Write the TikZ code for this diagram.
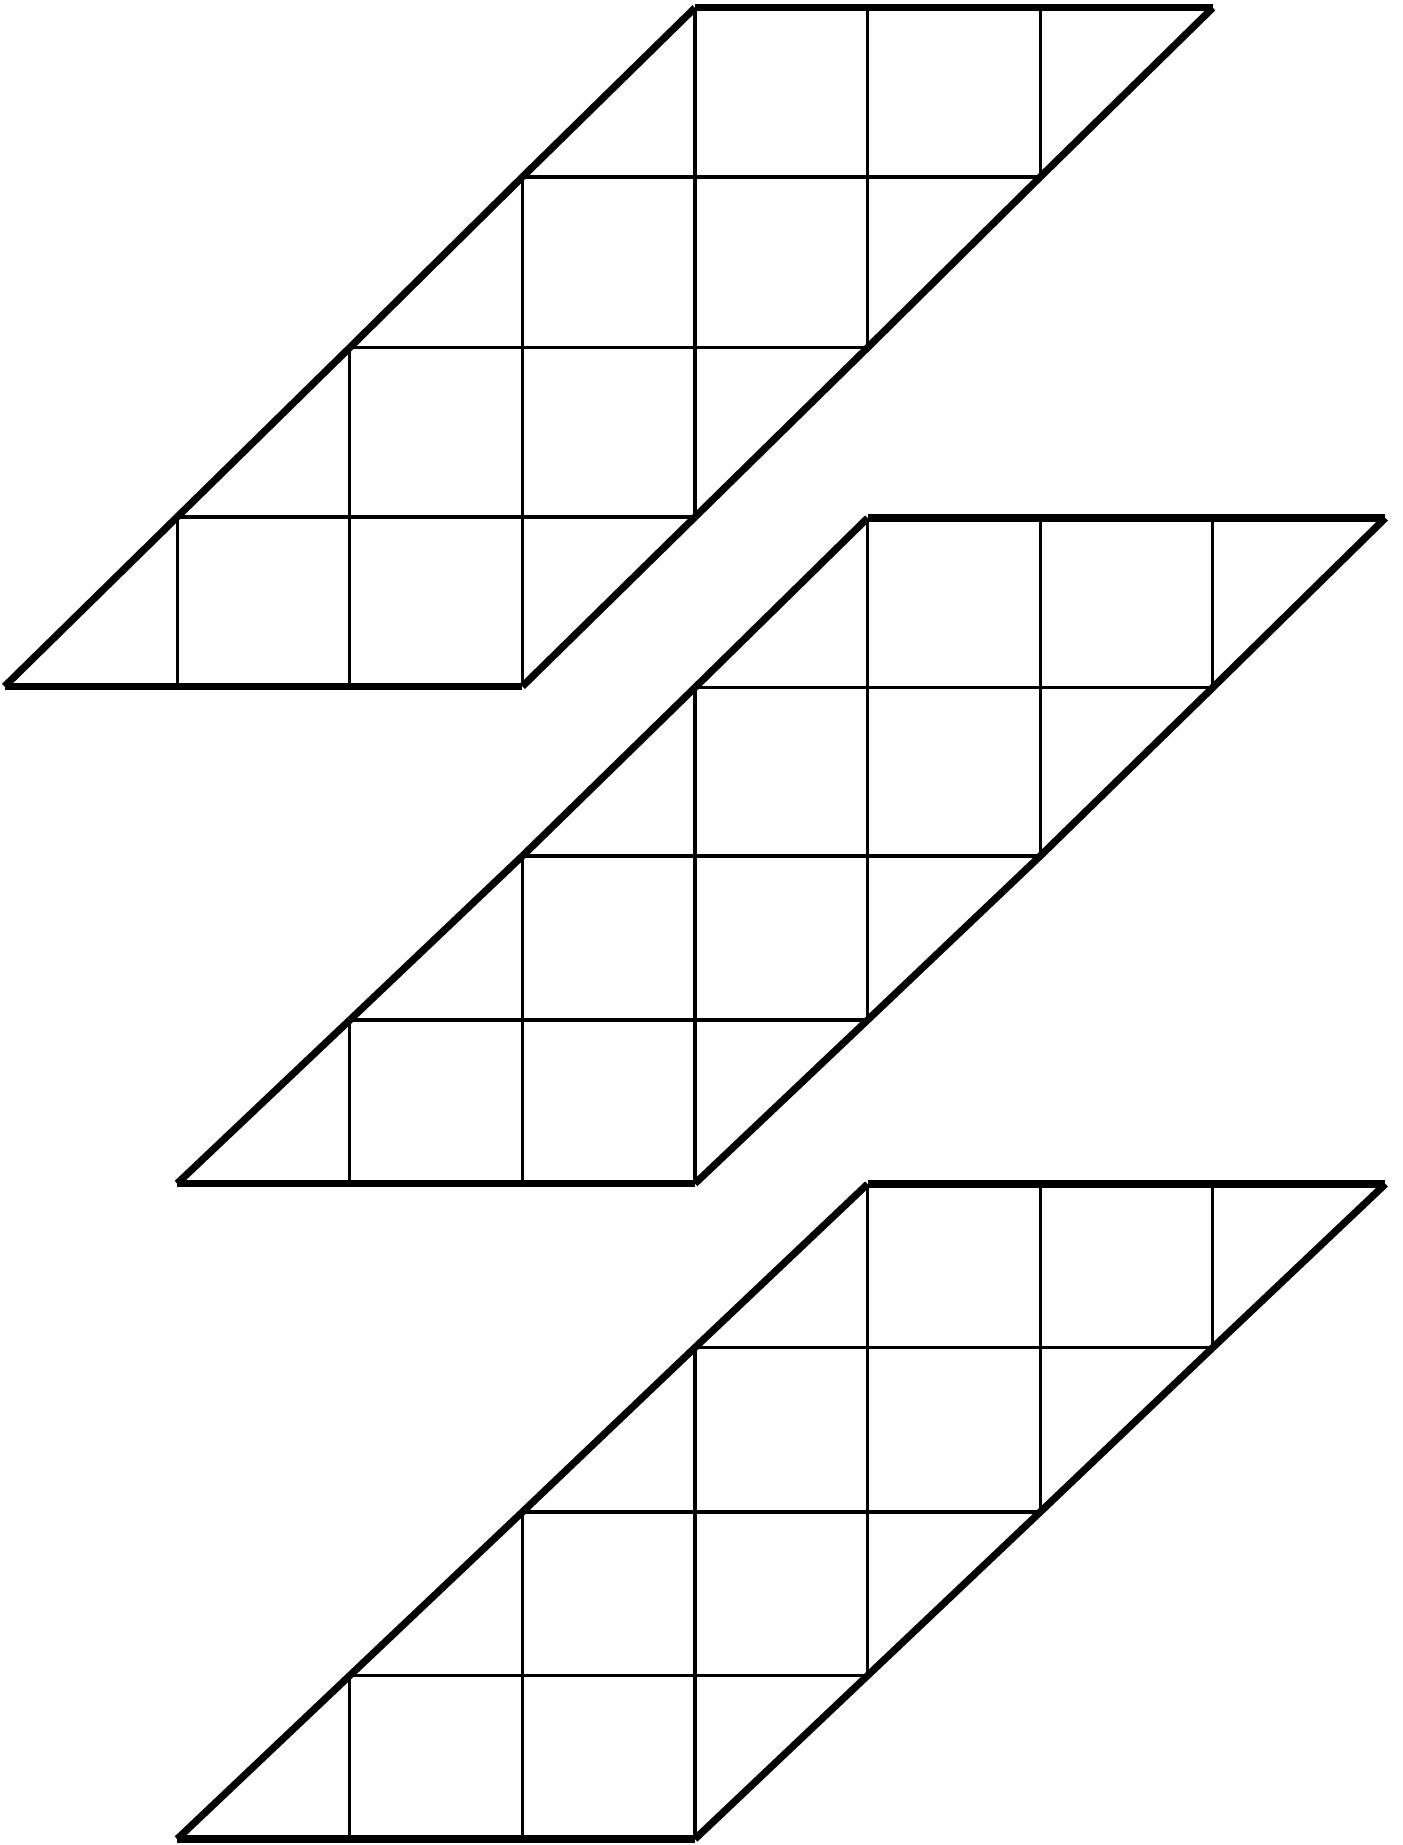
\documentclass[tikz,border=0pt]{standalone}
\begin{document}
\tikzset{
  outerline/.style={line width=3.6pt, line cap=butt, black},
  innerline/.style={line width=1.6pt, line cap=butt, black}
}
\begin{tikzpicture}[x=0.5pt,y=-0.5pt]
\useasboundingbox (0,0) rectangle (1402,1845);
\def\xo{4.6}
\def\cw{172.6}
\foreach \s/\ya/\yb/\yc/\yd/\ye in {0/7.8/177/347.6/517/686.4, 1/518/687.5/856/1020/1183.5, 1/1184/1347.5/1512/1675.5/1839}{
  \foreach \r/\yt/\ybt in {0/\ya/\yb, 1/\yb/\yc, 2/\yc/\yd, 3/\yd/\ye}{
    \pgfmathsetmacro\xA{\xo+\cw*(3-\r+\s)}
    \pgfmathsetmacro\xB{\xA+\cw}
    \pgfmathsetmacro\xC{\xA+2*\cw}
    \pgfmathsetmacro\xD{\xA+3*\cw}
    \pgfmathsetmacro\xE{\xA+4*\cw}
    % thin verticals
    \draw[innerline] (\xB,\yt) -- (\xB,\ybt);
    \draw[innerline] (\xC,\yt) -- (\xC,\ybt);
    \draw[innerline] (\xD,\yt) -- (\xD,\ybt);
    % bottom edge of the row
    \ifnum\r=3
      \draw[outerline] (\xA,\ybt) -- (\xD,\ybt);
    \else
      \draw[innerline] (\xA,\ybt) -- (\xD,\ybt);
    \fi
    % top edge of the shape
    \ifnum\r=0
      \draw[outerline] (\xB,\yt) -- (\xE,\yt);
    \fi
    % slanted sides
    \draw[outerline] (\xA,\ybt) -- (\xB,\yt);
    \draw[outerline] (\xE,\yt) -- (\xD,\ybt);
  }
}
\end{tikzpicture}
\end{document}
